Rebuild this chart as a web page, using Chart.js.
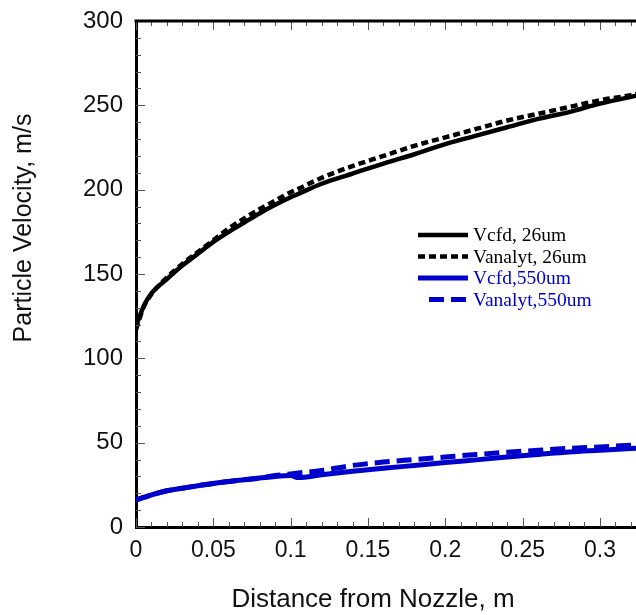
<!DOCTYPE html>
<html>
<head>
<meta charset="utf-8">
<script src="https://cdn.jsdelivr.net/npm/chart.js@4"></script>
<style>
  html, body { margin: 0; padding: 0; background: #fff; }
  #velocityChart { display: block; }
</style>
</head>
<body>
<canvas id="velocityChart" width="636" height="615"></canvas>
<script>
// distance from nozzle exit, m
const distance = [0, 0.005, 0.01, 0.02, 0.03, 0.04, 0.05, 0.06, 0.07, 0.08, 0.09, 0.10, 0.105,
    0.12, 0.14, 0.16, 0.18, 0.20, 0.22, 0.24, 0.26, 0.28, 0.30, 0.32, 0.33];

// particle velocity, m/s
const vcfd26 = [119, 131, 138.5, 147, 155, 162, 169, 175, 180.5, 186, 191, 195.5, 197.5,
    203.5, 209.5, 215.5, 221, 227, 232, 237, 242, 246, 251, 255, 257];
const vanalyt26 = [117, 130.5, 138, 148, 156, 163, 170, 177, 183, 188.5, 193.5, 198.5, 200.5,
    207, 214, 220, 226, 231, 236, 241, 245, 249, 253, 256, 258];
const vcfd550 = [16, 17.5, 19, 21.5, 23, 24.5, 25.8, 27, 28, 29, 30, 30.5, 29.3,
    31, 33, 34.8, 36.5, 38.2, 39.8, 41.5, 43, 44.5, 45.5, 46.5, 47];
const vanalyt550 = [16, 17.5, 19, 21.5, 23, 24.5, 25.8, 27, 28, 29, 30.5, 31.5, 32,
    33.5, 36.5, 38.5, 40, 41.5, 43, 44.3, 45.5, 46.6, 47.5, 48.5, 49];

const seriesLabels = ["Vcfd, 26um", "Vanalyt, 26um", "Vcfd,550um", "Vanalyt,550um"];

const xTicks = [0, 0.05, 0.1, 0.15, 0.2, 0.25, 0.3];
const yTicks = [0, 50, 100, 150, 200, 250, 300];

const BLUE = "#0000cc";

function toPoints(values) {
    return distance.map((d, i) => ({ x: d, y: values[i] }));
}

// inward tick marks, top frame line, axis titles and the legend box
const framePlugin = {
    id: "frame",
    afterDatasetsDraw(chart) {
        const ctx = chart.ctx;
        const area = chart.chartArea;
        const xs = chart.scales.x;
        const ys = chart.scales.y;

        ctx.save();
        ctx.strokeStyle = "#555";
        ctx.lineWidth = 1;
        ctx.beginPath();
        for (let k = 0; k <= 32; k++) {
            const px = Math.round(xs.getPixelForValue(k / 100)) + 0.5;
            const len = k % 5 === 0 ? 9 : 5;
            ctx.moveTo(px, area.bottom);
            ctx.lineTo(px, area.bottom - len);
            ctx.moveTo(px, area.top);
            ctx.lineTo(px, area.top + len);
        }
        for (let v = 0; v <= 300; v += 10) {
            const py = Math.round(ys.getPixelForValue(v)) + 0.5;
            const len = v % 50 === 0 ? 9 : 5;
            ctx.moveTo(area.left, py);
            ctx.lineTo(area.left + len, py);
        }
        ctx.stroke();

        // top frame
        ctx.strokeStyle = "#000";
        ctx.lineWidth = 3;
        ctx.beginPath();
        ctx.moveTo(area.left - 1.5, area.top);
        ctx.lineTo(area.right, area.top);
        ctx.stroke();

        // axis titles
        ctx.fillStyle = "#111";
        ctx.textAlign = "center";
        ctx.textBaseline = "middle";
        ctx.font = "26px 'Liberation Sans', Arial, sans-serif";
        ctx.fillText("Distance from Nozzle, m", area.left + 237, area.bottom + 73);
        ctx.translate(24, area.top + 207);
        ctx.rotate(-Math.PI / 2);
        ctx.font = "25px 'Liberation Sans', Arial, sans-serif";
        ctx.fillText("Particle Velocity, m/s", 0, 0);
        ctx.restore();

        // legend
        ctx.save();
        ctx.font = "19.5px 'Liberation Serif', 'Times New Roman', serif";
        ctx.textAlign = "left";
        ctx.textBaseline = "middle";
        chart.data.datasets.forEach((ds, i) => {
            const y = area.top + 214 + i * 21.5;
            const x0 = area.left + (i === 3 ? 293 : 282);
            const x1 = area.left + 332;
            ctx.strokeStyle = ds.borderColor;
            ctx.lineWidth = ds.borderWidth;
            ctx.setLineDash(ds.borderDash || []);
            ctx.beginPath();
            ctx.moveTo(x0, y);
            ctx.lineTo(x1, y);
            ctx.stroke();
            ctx.fillStyle = ds.borderColor;
            ctx.fillText(ds.label, area.left + 337, y + 1);
        });
        ctx.restore();
    }
};

new Chart(document.getElementById("velocityChart"), {
    type: "line",
    data: {
        datasets: [
            {
                label: seriesLabels[0],
                data: toPoints(vcfd26),
                borderColor: "#000",
                borderWidth: 4.5
            },
            {
                label: seriesLabels[1],
                data: toPoints(vanalyt26),
                borderColor: "#000",
                borderWidth: 4.5,
                borderDash: [7, 4]
            },
            {
                label: seriesLabels[2],
                data: toPoints(vcfd550),
                borderColor: BLUE,
                borderWidth: 5
            },
            {
                label: seriesLabels[3],
                data: toPoints(vanalyt550),
                borderColor: BLUE,
                borderWidth: 5,
                borderDash: [15, 7]
            }
        ]
    },
    options: {
        responsive: false,
        animation: false,
        layout: { padding: { top: 21, right: 0, left: 0, bottom: 0 } },
        elements: {
            point: { radius: 0 },
            line: { cubicInterpolationMode: "monotone", borderCapStyle: "butt", fill: false }
        },
        plugins: {
            legend: { display: false },
            tooltip: { enabled: false }
        },
        scales: {
            x: {
                type: "linear",
                min: 0,
                max: 0.3233,
                afterBuildTicks: scale => {
                    scale.ticks = xTicks.map(v => ({ value: v }));
                },
                afterFit: scale => {
                    scale.height = 88;
                    scale.paddingLeft = 0;
                    scale.paddingRight = 0;
                },
                grid: { display: false, drawTicks: false },
                border: { display: true, color: "#000", width: 3 },
                ticks: {
                    color: "#111",
                    padding: 10,
                    maxRotation: 0,
                    font: { family: "'Liberation Sans', Arial, sans-serif", size: 23 },
                    callback: v => String(+Number(v).toFixed(2))
                }
            },
            y: {
                min: 0,
                max: 300,
                afterBuildTicks: scale => {
                    scale.ticks = yTicks.map(v => ({ value: v }));
                },
                afterFit: scale => {
                    scale.width = 136;
                    scale.paddingTop = 0;
                    scale.paddingBottom = 0;
                },
                grid: { display: false, drawTicks: false },
                border: { display: true, color: "#000", width: 3 },
                ticks: {
                    color: "#111",
                    padding: 13,
                    font: { family: "'Liberation Sans', Arial, sans-serif", size: 24 }
                }
            }
        }
    },
    plugins: [framePlugin]
});
</script>
</body>
</html>
